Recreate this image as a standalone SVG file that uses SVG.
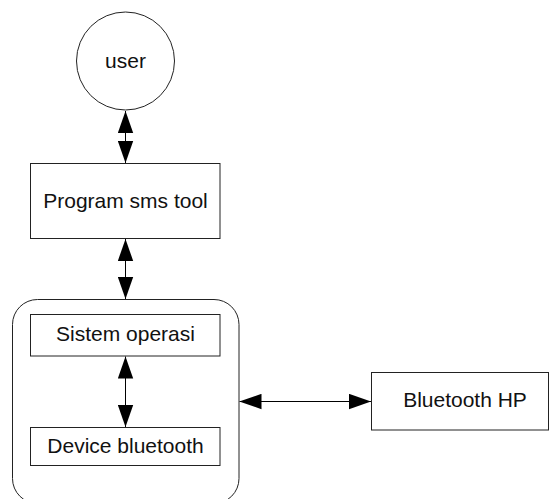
<svg xmlns="http://www.w3.org/2000/svg" width="550" height="499" viewBox="0 0 550 499">
<style>
.shape{fill:#fff;stroke:#222;stroke-width:1}
.lbl{font-family:"Liberation Sans",Arial,sans-serif;font-size:21px;fill:#111;text-anchor:middle}
.conn{stroke:#000;stroke-width:1;fill:none;marker-start:url(#ah);marker-end:url(#ah)}
</style>
<defs>
<marker id="ah" markerUnits="userSpaceOnUse" markerWidth="22" markerHeight="16" viewBox="0 0 20 14" refX="20" refY="7" orient="auto-start-reverse">
<path d="M0,0 L20,7 L0,14 Z" fill="#000"/>
</marker>
</defs>
<rect width="550" height="499" fill="#fff"/>
<g id="device">
<rect class="shape" x="12.5" y="299.5" width="226.5" height="204" rx="25" ry="25"/>
</g>
<g id="user">
<circle class="shape" cx="125.5" cy="61" r="49"/>
<text class="lbl" x="125.5" y="68.3">user</text>
</g>
<g id="program">
<rect class="shape" x="30.5" y="163.5" width="189.5" height="75"/>
<text class="lbl" x="125.5" y="208.3">Program sms tool</text>
</g>
<g id="sistem">
<rect class="shape" x="30.5" y="314.5" width="189.5" height="41.5"/>
<text class="lbl" x="125.5" y="341">Sistem operasi</text>
</g>
<g id="devbt">
<rect class="shape" x="30.5" y="427.5" width="189.5" height="38"/>
<text class="lbl" x="125.5" y="452.7">Device bluetooth</text>
</g>
<g id="bthp">
<rect class="shape" x="371.5" y="372.5" width="177" height="57.5"/>
<text class="lbl" x="465" y="407.3">Bluetooth HP</text>
</g>
<g id="connectors">
<line class="conn" x1="125.5" y1="111" x2="125.5" y2="163"/>
<line class="conn" x1="125.5" y1="239" x2="125.5" y2="299"/>
<line class="conn" x1="125.5" y1="356.5" x2="125.5" y2="427"/>
<line class="conn" x1="239.5" y1="401.5" x2="371" y2="401.5"/>
</g>
</svg>
